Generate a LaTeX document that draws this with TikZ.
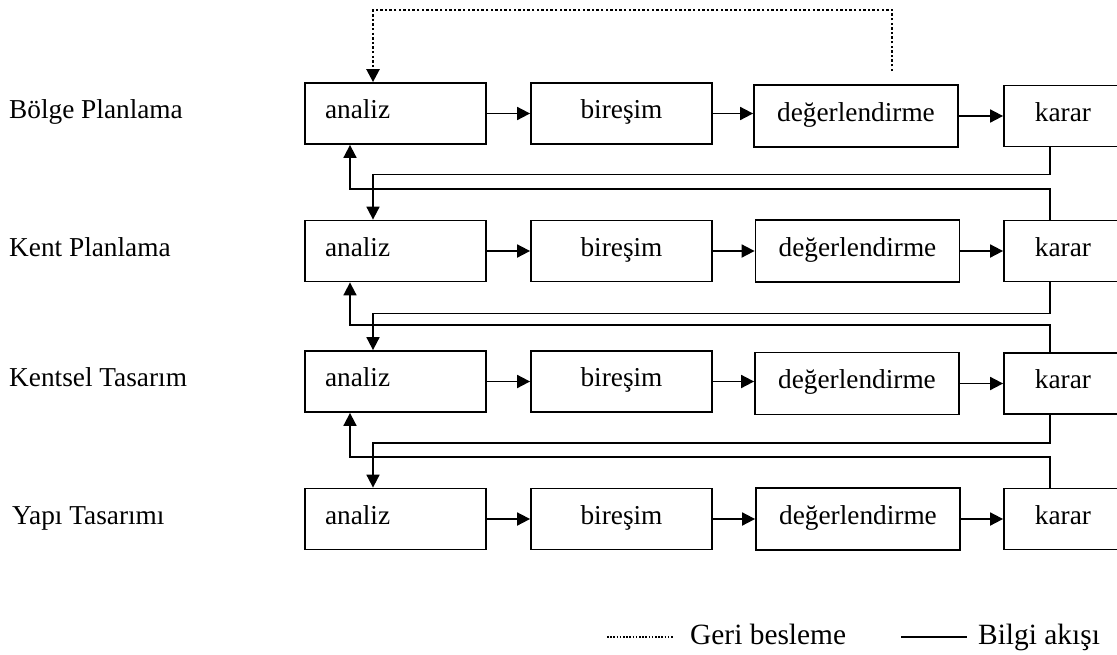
\documentclass[tikz,border=0pt]{standalone}
\usepackage{fontspec}
\setmainfont{Liberation Serif}
\usetikzlibrary{arrows.meta}
\newcommand\dgmain{\fontsize{27.3pt}{32pt}\selectfont}
\newcommand\dglegend{\fontsize{29.4pt}{34pt}\selectfont}
\begin{document}
\begin{tikzpicture}[x=1pt,y=-1pt,
  box/.style={draw, line width=1.8pt, inner xsep=0pt, inner ysep=0pt,
    minimum height=61pt, text height=10pt, text depth=0pt, align=center, font=\dgmain},
  abox/.style={box, text width=141pt, inner xsep=20pt, align=left},
  bbox/.style={box, text width=181pt},
  dbox/.style={box, text width=204pt, minimum height=62pt},
  kbox/.style={box, text width=118pt},
  lab/.style={anchor=base west, inner sep=0pt, font=\dgmain},
  leg/.style={anchor=base west, inner sep=0pt, font=\dglegend},
  info/.style={line width=1.8pt},
  arr/.style={-{Triangle[length=13pt,width=13pt]}},
  fbline/.style={line width=2.5pt, dash pattern=on 2.4pt off 2.2pt},
  legdot/.style={line width=1.6pt, dash pattern=on 1.6pt off 1.6pt},
]
\useasboundingbox (0,0) rectangle (1117,654);
\clip (0,0) rectangle (1117,654);

% x positions of the vertical connector lines
\coordinate (xk) at (1050,0);
\coordinate (xd) at (373,0);
\coordinate (xu) at (350,0);

% row labels
\node[lab] (r1) at (9,118.5) {Bölge Planlama};
\node[lab] (r2) at (9,256) {Kent Planlama};
\node[lab] (r3) at (9,386.5) {Kentsel Tasarım};
\node[lab] (r4) at (12,524) {Yapı Tasarımı};

% row 1
\node[abox] (a1) at (395.5,113.5) {analiz};
\node[bbox] (b1) at (621.5,113.5) {bireşim};
\node[dbox] (d1) at (856,116) {değerlendirme};
\node[kbox] (k1) at (1063,116) {karar};
% row 2
\node[abox] (a2) at (395.5,251) {analiz};
\node[bbox] (b2) at (621.5,251) {bireşim};
\node[dbox] (d2) at (857.5,251) {değerlendirme};
\node[kbox] (k2) at (1063,251) {karar};
% row 3
\node[abox] (a3) at (395.5,381.5) {analiz};
\node[bbox] (b3) at (621.5,381.5) {bireşim};
\node[dbox] (d3) at (857,383.5) {değerlendirme};
\node[kbox] (k3) at (1063,383.5) {karar};
% row 4
\node[abox] (a4) at (395.5,519) {analiz};
\node[bbox] (b4) at (621.5,519) {bireşim};
\node[dbox] (d4) at (858,519) {değerlendirme};
\node[kbox] (k4) at (1063,519) {karar};

% arrows within rows
\foreach \r in {1,2,3,4}{
  \draw[info,arr] (a\r.east) -- (b\r.west |- a\r.east);
  \draw[info,arr] (b\r.east) -- (d\r.west |- b\r.east);
  \draw[info,arr] (d\r.east) -- (k\r.west |- d\r.east);
}

% information flow between levels
\draw[info,arr] (k1.south -| xk) -- ++(0,27) -| (a2.north -| xd);
\draw[info,arr] (k2.north -| xk) -- ++(0,-31) -| (a1.south -| xu);
\draw[info,arr] (k2.south -| xk) -- ++(0,31) -| (a3.north -| xd);
\draw[info,arr] (k3.north -| xk) -- ++(0,-27) -| (a2.south -| xu);
\draw[info,arr] (k3.south -| xk) -- ++(0,28) -| (a4.north -| xd);
\draw[info,arr] (k4.north -| xk) -- ++(0,-31) -| (a3.south -| xu);

% feedback
\coordinate (fb) at (892,71);
\draw[fbline,arr] (fb) -- ++(0,-61) -| (a1.north -| xd);

% legend
\coordinate (ld1) at (607,637);
\coordinate (ld2) at (674,637);
\draw[legdot] (ld1) -- (ld2);
\node[leg] (geri) at (690,644) {Geri besleme};
\coordinate (ls1) at (901,637);
\coordinate (ls2) at (967,637);
\draw[info] (ls1) -- (ls2);
\node[leg] (bilgi) at (978,644) {Bilgi akışı};
\end{tikzpicture}
\end{document}
